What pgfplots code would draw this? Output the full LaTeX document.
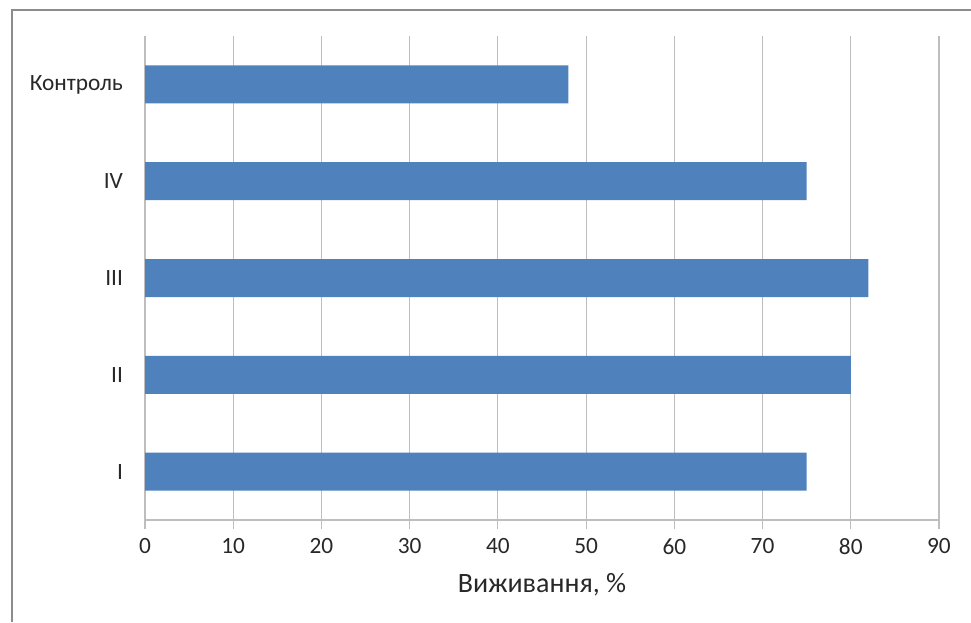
\documentclass[border=0pt]{standalone}
\usepackage{fontspec}
\setmainfont{Carlito}
\usepackage{pgfplots}
\pgfplotsset{compat=1.18}
\definecolor{barblue}{RGB}{79,129,189}
\definecolor{gridc}{RGB}{190,190,190}
\definecolor{framec}{RGB}{140,140,140}
\definecolor{txt}{RGB}{40,40,40}
\begin{document}
\begin{tikzpicture}
\useasboundingbox (0,0) rectangle (728.25pt,466.5pt);
\draw[framec, line width=1.1pt] (9pt,0) -- (9pt,459pt) -- (728.25pt,459pt);
\begin{axis}[
  at={(108.75pt,76.5pt)}, anchor=south west,
  width=595.5pt, height=363pt, scale only axis,
  xmin=0, xmax=90, ymin=-0.5, ymax=4.5,
  xtick={0,10,...,90}, ytick={0,1,2,3,4},
  yticklabels={I,II,III,IV,Контроль},
  xmajorgrids, grid style={gridc, line width=0.8pt},
  axis x line*=bottom, axis y line*=left,
  axis line style={gridc, line width=0.8pt, -},
  xtick align=outside, major tick length=7pt,
  x tick style={gridc, line width=0.8pt},
  y tick style={draw=none},
  ticklabel style={font=\fontsize{17.5}{19}\selectfont, text=txt},
  yticklabel style={xshift=-13pt},
  xticklabel style={yshift=-3.5pt},
  /pgf/number format/assume math mode=true,
  xlabel={Виживання, \%},
  xlabel style={font=\fontsize{21}{23}\selectfont, text=txt, yshift=-7pt},
]
\addplot[xbar, fill=barblue, draw=none, bar width=28.5pt] coordinates {(75,0) (80,1) (82,2) (75,3) (48,4)};
\end{axis}
\end{tikzpicture}
\end{document}
